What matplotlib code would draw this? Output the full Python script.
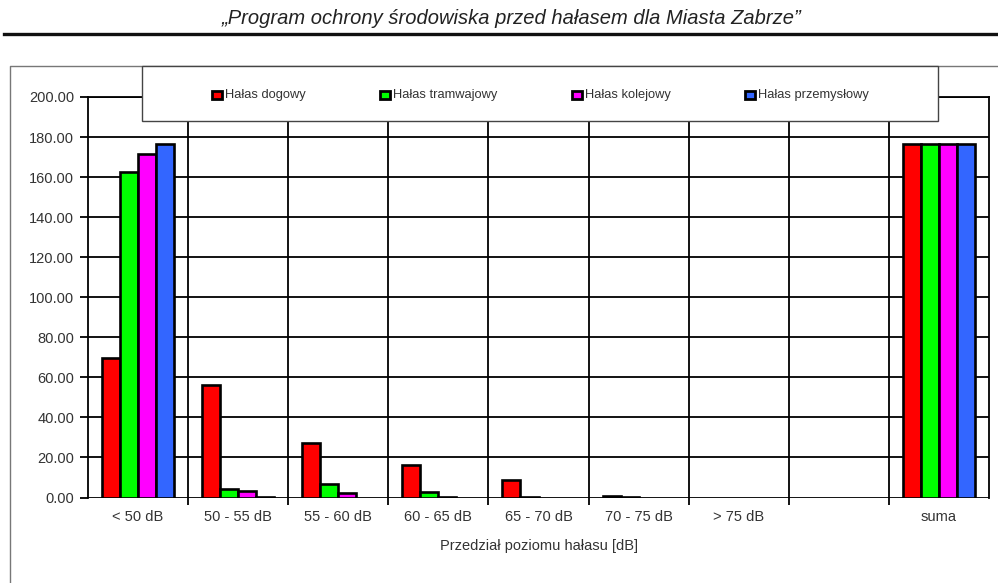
import matplotlib
matplotlib.use("Agg")
import matplotlib.pyplot as plt
from matplotlib.patches import Rectangle
from matplotlib.lines import Line2D
import numpy as np

plt.rcParams['font.family'] = ['Liberation Sans', 'DejaVu Sans']

categories = ["< 50 dB", "50 - 55 dB", "55 - 60 dB", "60 - 65 dB", "65 - 70 dB",
              "70 - 75 dB", "> 75 dB", "", "suma"]
series_names = ["Hałas dogowy", "Hałas tramwajowy", "Hałas kolejowy", "Hałas przemysłowy"]
drogowy = [69.8, 56.2, 27.0, 16.0, 8.7, 0.5, 0.0, 0.0, 176.7]
tramwajowy = [162.6, 4.2, 6.6, 2.8, 0.3, 0.3, 0.0, 0.0, 176.7]
kolejowy = [171.3, 3.1, 2.4, 0.3, 0.0, 0.0, 0.0, 0.0, 176.7]
przemyslowy = [176.5, 0.3, 0.0, 0.0, 0.0, 0.0, 0.0, 0.0, 176.7]
series = [drogowy, tramwajowy, kolejowy, przemyslowy]
colors = ["#FF0000", "#00FF00", "#FF00FF", "#3366FF"]
yticks = [0, 20, 40, 60, 80, 100, 120, 140, 160, 180, 200]

W, H = 998, 583
fig = plt.figure(figsize=(W / 100, H / 100), dpi=100)

def fx(px):
    return px / W

def fy(py):
    return 1 - py / H

# header
fig.text(fx(512), fy(18), "\u201EProgram ochrony środowiska przed hałasem dla Miasta Zabrze\u201D",
         ha="center", va="center", fontsize=14.5, style="italic", color="#222222")
fig.add_artist(Line2D([fx(4), fx(998)], [fy(34), fy(34)], color="#111111", lw=2.4))

# outer chart frame
fig.add_artist(Line2D([fx(10), fx(10), fx(998)], [fy(583), fy(66), fy(66)],
                      color="#777777", lw=1.0))

ax = fig.add_axes([fx(88), fy(497.5), fx(989) - fx(88), (497.5 - 97) / H])
x = np.arange(len(categories))
bw = 0.18
for i, (vals, c) in enumerate(zip(series, colors)):
    bars = ax.bar(x + (i - 1.5) * bw, vals, width=bw, color=c, edgecolor="black",
                  linewidth=1.9, zorder=3)
    for b, v in zip(bars, vals):
        if v == 0:
            b.set_visible(False)

ax.set_xlim(-0.5, len(categories) - 0.5)
ax.set_ylim(0, 200)
ax.set_yticks(yticks)
ax.set_yticklabels([f"{v:.2f}" for v in yticks])
ax.set_xticks(x)
ax.set_xticklabels(categories)
ax.set_xticks(np.arange(0.5, len(categories) - 0.5, 1.0), minor=True)
ax.tick_params(axis="x", which="major", length=0, pad=9, labelsize=10.5, labelcolor="#333333")
ax.tick_params(axis="x", which="minor", length=5, width=1.3, direction="out", color="black")
ax.tick_params(axis="y", length=6, width=1.3, direction="out", pad=4, labelsize=10.5,
               labelcolor="#333333")
ax.grid(True, axis="y", which="major", color="black", lw=1.3, zorder=1)
ax.grid(True, axis="x", which="minor", color="black", lw=1.3, zorder=1)
for s in ax.spines.values():
    s.set_color("black")
    s.set_linewidth(1.3)
ax.spines["bottom"].set_visible(False)
ax.set_xlabel("Przedział poziomu hałasu [dB]", fontsize=10.5, color="#333333", labelpad=11)

# legend box
fig.add_artist(Rectangle((fx(142), fy(121)), fx(938) - fx(142), (121 - 66) / H,
                         facecolor="white", edgecolor="#444444", lw=1.0, zorder=10))
leg_x = [212, 380, 572, 745]
for lx, name, c in zip(leg_x, series_names, colors):
    fig.add_artist(Rectangle((fx(lx), fy(99)), fx(10), 8 / H, facecolor=c,
                             edgecolor="black", lw=2.0, zorder=11))
    fig.text(fx(lx + 13), fy(95), name, ha="left", va="center", fontsize=9.3,
             color="#333333", zorder=12)

fig.savefig("out.png", dpi=100)
